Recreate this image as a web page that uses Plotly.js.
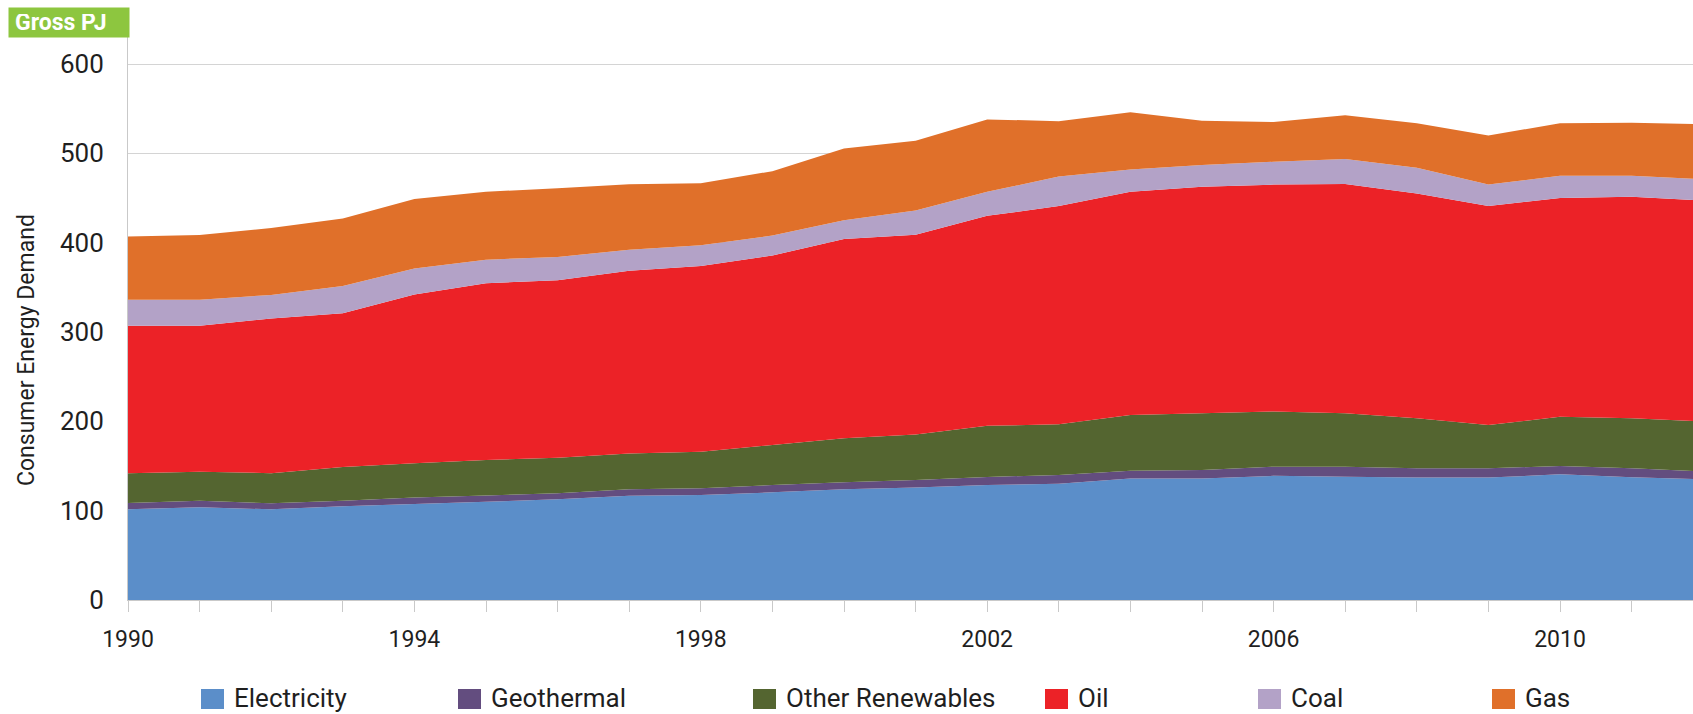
<!DOCTYPE html>
<html>
<head>
<meta charset="utf-8">
<script src="https://cdn.plot.ly/plotly-3.0.1.min.js"></script>
<style>
  html, body { margin: 0; padding: 0; background: #ffffff; }
  #chart { width: 1693px; height: 714px; }
</style>
</head>
<body>
<div id="chart"></div>
<script>
// ---- Data (Gross PJ, consumer energy demand) ----
const years = [1990, 1991, 1992, 1993, 1994, 1995, 1996, 1997, 1998, 1999, 2000,
               2001, 2002, 2003, 2004, 2005, 2006, 2007, 2008, 2009, 2010, 2011, 2012];

const electricity = [101.5, 103.8, 101.5, 105.0, 107.5, 110.0, 112.7, 116.8, 117.5, 120.5, 124.0,
                     126.0, 128.7, 130.0, 136.0, 136.0, 139.0, 138.0, 137.0, 137.0, 140.7, 137.4, 135.0];
const geothermal = [7.0, 7.2, 6.7, 6.2, 7.1, 7.0, 6.7, 7.2, 7.5, 8.2, 7.7,
                    8.3, 9.0, 10.0, 8.7, 9.5, 10.3, 11.3, 10.4, 10.4, 9.3, 10.0, 9.0];
const otherRenewables = [33.5, 32.7, 33.8, 37.8, 38.4, 39.7, 39.9, 40.0, 41.0, 44.8, 49.3,
                         51.1, 57.3, 56.6, 62.3, 63.5, 61.7, 59.7, 56.0, 48.6, 55.0, 56.0, 56.0];
const oil = [165.0, 163.3, 173.0, 172.0, 189.0, 197.8, 198.7, 204.6, 208.0, 212.0, 223.0,
             223.6, 235.0, 244.4, 250.0, 253.6, 254.0, 256.6, 251.6, 245.0, 245.0, 248.0, 247.0];
const coal = [29.0, 29.0, 26.5, 30.5, 29.0, 26.5, 26.0, 23.4, 23.0, 22.5, 21.0,
              27.0, 27.0, 33.0, 25.0, 24.4, 25.6, 28.0, 29.0, 24.0, 25.0, 23.6, 24.0];
const gas = [71.0, 72.5, 75.0, 75.5, 78.0, 76.0, 77.0, 73.5, 69.5, 72.0, 80.5,
             78.0, 81.0, 62.0, 64.0, 49.5, 44.4, 48.9, 49.6, 55.0, 58.6, 59.3, 61.5];

const seriesNames = ["Electricity", "Geothermal", "Other Renewables", "Oil", "Coal", "Gas"];
const seriesValues = [electricity, geothermal, otherRenewables, oil, coal, gas];
const seriesColors = ["#5b8ec9", "#634d7f", "#546530", "#ec2227", "#b3a2c7", "#e0702a"];

const xTickVals = years.slice(0, 22);
const xTickText = xTickVals.map(y => ((y - 1990) % 4 === 0 ? String(y) : ""));
const yTickVals = [0, 100, 200, 300, 400, 500, 600];

const yAxisTitle = "Consumer Energy Demand";
const unitLabel = "Gross PJ";

// ---- Layout geometry (pixels) ----
const W = 1693, H = 714;
const M = { l: 128, r: 0, t: 36, b: 114 };
const plotW = W - M.l - M.r, plotH = H - M.t - M.b;
const px = x => (x - M.l) / plotW;          // pixel -> paper x
const py = y => (H - M.b - y) / plotH;      // pixel -> paper y

const FONT = "Roboto, 'Open Sans', 'Liberation Sans', sans-serif";
const TXT = "#1f1f1f";

const traces = seriesNames.map((name, i) => ({
  type: "scatter",
  x: years,
  y: seriesValues[i],
  name: name,
  stackgroup: "one",
  mode: "none",
  fillcolor: seriesColors[i],
  line: { shape: "linear", width: 0 },
  hoverinfo: "x+y+name",
  showlegend: false
}));

// manual legend
const legendSquareX = [201, 458, 753, 1045, 1258, 1492];
const shapes = [];
const annotations = [];
seriesNames.forEach((name, i) => {
  const x0 = legendSquareX[i];
  shapes.push({
    type: "rect", xref: "paper", yref: "paper",
    x0: px(x0), x1: px(x0 + 23), y0: py(709), y1: py(689),
    fillcolor: seriesColors[i], line: { width: 0 }
  });
  annotations.push({
    xref: "paper", yref: "paper", x: px(x0 + 31), y: py(698),
    xanchor: "left", yanchor: "middle", showarrow: false,
    text: name, font: { family: FONT, size: 26, color: TXT }
  });
});

// y-axis title
annotations.push({
  xref: "paper", yref: "paper", x: px(26), y: py(350),
  xanchor: "center", yanchor: "middle", showarrow: false, textangle: -90,
  text: yAxisTitle, font: { family: FONT, size: 23, color: TXT }
});

// unit badge
annotations.push({
  xref: "paper", yref: "paper", x: px(8), y: py(7),
  xanchor: "left", yanchor: "top", showarrow: false,
  text: "<b>" + unitLabel + "</b>", align: "left",
  bgcolor: "#8dc63f", borderpad: 6, width: 108, height: 17,
  font: { family: FONT, size: 23, color: "#ffffff" }
});

const layout = {
  width: W, height: H,
  margin: M,
  paper_bgcolor: "#ffffff",
  plot_bgcolor: "#ffffff",
  showlegend: false,
  font: { family: FONT, size: 23, color: TXT },
  xaxis: {
    range: [1990, 1990 + plotW / 71.6],
    tickvals: xTickVals,
    ticktext: xTickText,
    ticks: "outside", ticklen: 11, tickwidth: 1, tickcolor: "#c9c9c9",
    showline: true, linecolor: "#c9c9c9", linewidth: 1,
    showgrid: false, zeroline: false,
    ticklabelstandoff: 7,
    tickfont: { family: FONT, size: 23, color: TXT }
  },
  yaxis: {
    range: [0, 600 * (H - M.b - M.t) / (600 - 64)],
    tickvals: yTickVals,
    ticks: "", showline: true, linecolor: "#c9c9c9", linewidth: 1,
    showgrid: true, gridcolor: "#d4d4d4", gridwidth: 1,
    zeroline: false,
    ticklabelstandoff: 18,
    tickfont: { family: FONT, size: 26, color: TXT }
  },
  shapes: shapes,
  annotations: annotations
};

Plotly.newPlot("chart", traces, layout, { staticPlot: true, displayModeBar: false });
</script>
</body>
</html>
